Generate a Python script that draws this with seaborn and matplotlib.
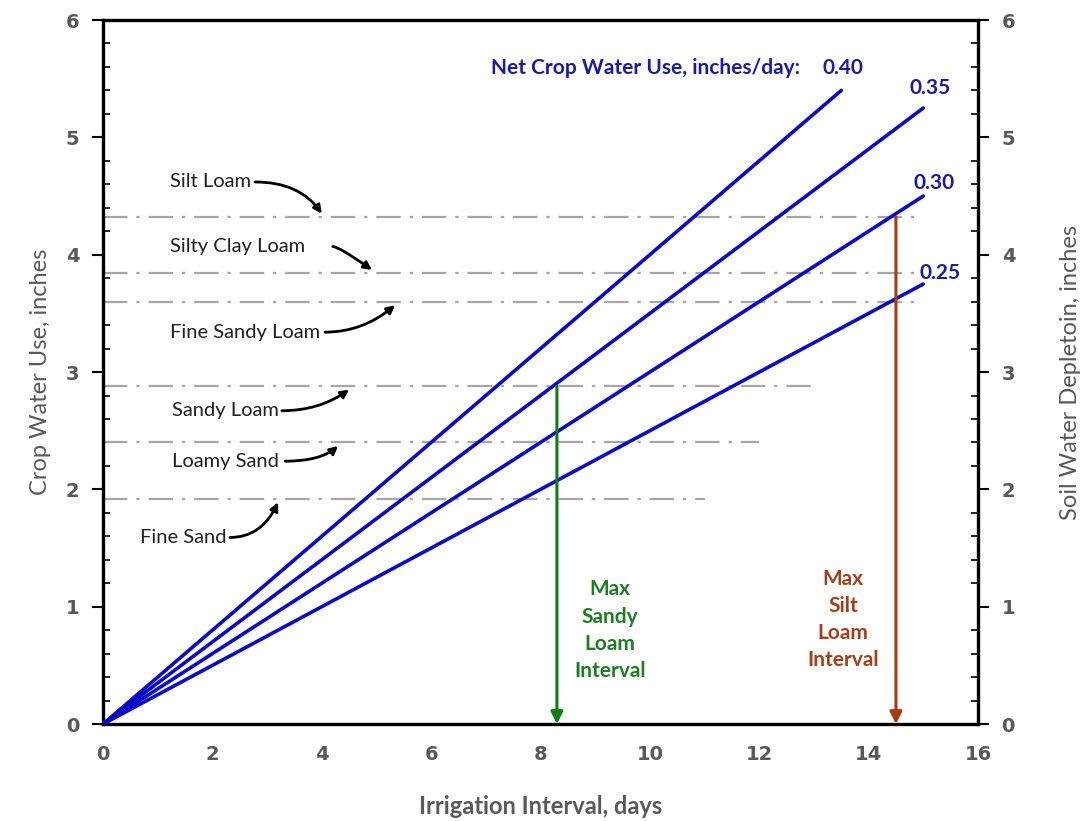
import matplotlib
matplotlib.use('Agg')
import matplotlib.pyplot as plt
import seaborn as sns
import pandas as pd
import numpy as np
from matplotlib.ticker import MultipleLocator

# Net crop water use lines (inches/day), start at origin
rates = ['0.40', '0.35', '0.30', '0.25']
end_x = [13.5, 15.0, 15.0, 15.0]
end_y = [5.40, 5.25, 4.50, 3.75]

# Soil available water depletion levels
soils = ['Silt Loam', 'Silty Clay Loam', 'Fine Sandy Loam', 'Sandy Loam', 'Loamy Sand', 'Fine Sand']
soil_depth = [4.32, 3.84, 3.60, 2.88, 2.40, 1.92]
soil_line_end = [15.0, 15.0, 15.0, 13.0, 12.0, 11.0]
# label text position and arrow target x
label_xy = [(1.22, 4.62), (1.22, 4.07), (1.22, 3.34), (1.26, 2.67), (1.26, 2.24), (0.68, 1.59)]
arrow_start_x = [2.78, 4.20, 4.06, 3.27, 3.33, 2.32]
arrow_target_x = [4.0, 4.92, 5.34, 4.5, 4.3, 3.2]
arrow_angle_b = [125, 145, 40, 35, 40, 65]

# interval arrows
sandy_interval = 8.3
silt_interval = 14.5

rows = []
for r, xe, ye in zip(rates, end_x, end_y):
    rows.append({'rate': r, 'days': 0.0, 'inches': 0.0})
    rows.append({'rate': r, 'days': xe, 'inches': ye})
df = pd.DataFrame(rows)

sns.set_style('white')
plt.rcParams['font.family'] = ['Lato', 'DejaVu Sans']

fig = plt.figure(figsize=(10.87, 8.21), dpi=100)
ax = fig.add_axes([0.0948, 0.1181, 0.8049, 0.8575])

# soil lines
for d, xe in zip(soil_depth, soil_line_end):
    ax.plot([0, xe], [d, d], color='#a6a6a6', lw=1.6, dashes=[11, 4, 1.5, 4], zorder=1)

sns.lineplot(data=df, x='days', y='inches', units='rate', estimator=None,
             color='#0a0ac8', lw=2.6, ax=ax, zorder=3)

# rate labels
label_pos = [(13.53, 5.59), (15.12, 5.42), (15.2, 4.61), (15.3, 3.84)]
for r, (lx, ly) in zip(rates, label_pos):
    ax.text(lx, ly, r, color='#1a1aa8', fontsize=15, fontweight='bold', ha='center', va='center')
ax.text(12.74, 5.59, 'Net Crop Water Use, inches/day:', color='#1a1aa8', fontsize=15,
        fontweight='bold', ha='right', va='center')

# soil labels with curved arrows
for name, (tx, ty), sx, tgx, d, ab in zip(soils, label_xy, arrow_start_x, arrow_target_x, soil_depth, arrow_angle_b):
    ax.text(tx, ty, name, fontsize=14.5, color='#202020', va='center', ha='left')
    off = 0.03 if ab > 90 else -0.03
    ax.annotate('', xy=(tgx, d + off), xytext=(sx, ty),
                arrowprops=dict(arrowstyle='-|>', color='black', lw=2.0,
                                connectionstyle=f'angle3,angleA=0,angleB={ab}', mutation_scale=12,
                                shrinkA=0, shrinkB=0))

# interval arrows
ax.annotate('', xy=(sandy_interval, 0.0), xytext=(sandy_interval, 2.88),
            arrowprops=dict(arrowstyle='-|>', color='#0f7d16', lw=2.2, mutation_scale=18,
                            shrinkA=0, shrinkB=0), zorder=4)
ax.annotate('', xy=(silt_interval, 0.0), xytext=(silt_interval, 4.32),
            arrowprops=dict(arrowstyle='-|>', color='#a83a12', lw=2.2, mutation_scale=18,
                            shrinkA=0, shrinkB=0), zorder=4)
ax.text(9.27, 0.80, 'Max\nSandy\nLoam\nInterval', color='#1e7d22', fontsize=15, fontweight='bold',
        ha='center', va='center', linespacing=1.45)
ax.text(13.53, 0.89, 'Max\nSilt\nLoam\nInterval', color='#a3401c', fontsize=15, fontweight='bold',
        ha='center', va='center', linespacing=1.45)

ax.set_xlim(0, 16)
ax.set_ylim(0, 6)
ax.xaxis.set_major_locator(MultipleLocator(2))
ax.xaxis.set_minor_locator(MultipleLocator(0.5))
ax.yaxis.set_major_locator(MultipleLocator(1))
ax.yaxis.set_minor_locator(MultipleLocator(0.2))
ax.tick_params(which='major', direction='out', length=8, width=1.5, color='black',
               labelsize=14, labelcolor='#595959', pad=9)
ax.tick_params(which='minor', direction='in', length=5, width=1.2, color='black')
ax.tick_params(axis='x', which='major', direction='inout', length=12)
for lab in ax.get_xticklabels() + ax.get_yticklabels():
    lab.set_fontweight('bold')
    lab.set_family('DejaVu Sans')
for s in ax.spines.values():
    s.set_color('black')
    s.set_linewidth(2.4)

ax.set_xlabel('Irrigation Interval, days', fontsize=17, color='#595959', fontweight='bold')
ax.set_ylabel('Crop Water Use, inches', fontsize=17, color='#595959')
ax.xaxis.set_label_coords(0.5, -0.101)
ax.yaxis.set_label_coords(-0.06, 0.5)

ax2 = ax.twinx()
ax2.set_ylim(0, 6)
ax2.yaxis.set_major_locator(MultipleLocator(1))
ax2.yaxis.set_minor_locator(MultipleLocator(0.2))
ax2.tick_params(which='major', direction='out', length=8, width=1.5, color='black',
                labelsize=14, labelcolor='#595959', pad=9)
ax2.tick_params(which='minor', direction='in', length=5, width=1.2, color='black')
for lab in ax2.get_yticklabels():
    lab.set_fontweight('bold')
    lab.set_family('DejaVu Sans')
ax2.set_ylabel('Soil Water Depletoin, inches', fontsize=17, color='#595959')
ax2.yaxis.set_label_coords(1.094, 0.5)
for s in ax2.spines.values():
    s.set_visible(False)

fig.savefig('out.png', dpi=100)
